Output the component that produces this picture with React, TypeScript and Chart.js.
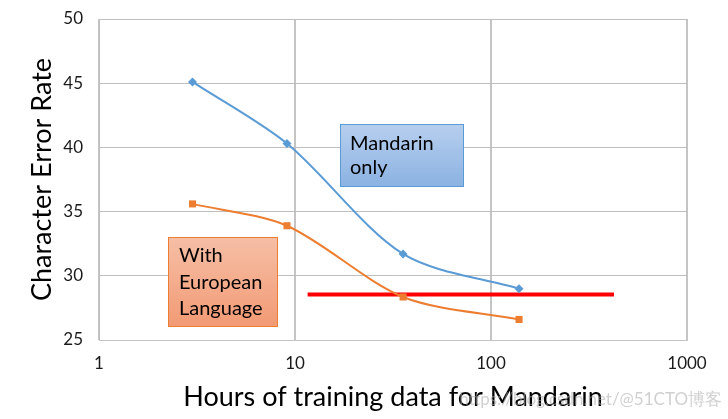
import React, { useEffect, useRef } from 'react';
import { Chart, registerables } from 'chart.js';

Chart.register(...registerables);

// ---- data ----
const hours = [3, 9.1, 35.6, 139];
const mandarinOnly = [45.1, 40.3, 31.7, 29.0];
const withEuropean = [35.6, 33.9, 28.35, 26.6];
const refHours = [11.6, 424];
const refValues = [28.55, 28.55];
const xTickValues = [1, 10, 100, 1000];
const yMin = 25;
const yMax = 50;
const yStep = 5;

const xTitle = 'Hours of training data for Mandarin';
const yTitle = 'Character Error Rate';
const watermark = 'https://blog.csdn.net/@51CTO博客';

const FONT = 'Lato, "Open Sans", "Noto Sans", sans-serif';

type Box = {
  lines: string[];
  x0: number; x1: number; y0: number; y1: number;
  top: string; bottom: string; border: string;
  fontSize: number; firstLine: number; lineGap: number; padLeft: number;
};

const boxes: Box[] = [
  {
    lines: ['Mandarin', 'only'],
    x0: 17, x1: 72.8, y0: 36.9, y1: 41.8,
    top: '#B7CFEE', bottom: '#8BB2E2', border: '#5B9BD5',
    fontSize: 20, firstLine: 20, lineGap: 24, padLeft: 10,
  },
  {
    lines: ['With', 'European', 'Language'],
    x0: 2.25, x1: 8.19, y0: 26.0, y1: 33.02,
    top: '#F6BFA6', bottom: '#F29A74', border: '#ED7D31',
    fontSize: 20, firstLine: 19, lineGap: 26.5, padLeft: 11,
  },
];

const boxesPlugin = {
  id: 'textBoxes',
  afterDatasetsDraw(chart: any) {
    const { ctx } = chart;
    const x = chart.scales.x;
    const y = chart.scales.y;
    ctx.save();
    for (const b of boxes) {
      const l = Math.round(x.getPixelForValue(b.x0));
      const r = Math.round(x.getPixelForValue(b.x1));
      const t = Math.round(y.getPixelForValue(b.y1));
      const bt = Math.round(y.getPixelForValue(b.y0));
      const g = ctx.createLinearGradient(0, t, 0, bt);
      g.addColorStop(0, b.top);
      g.addColorStop(1, b.bottom);
      ctx.fillStyle = g;
      ctx.fillRect(l, t, r - l, bt - t);
      ctx.strokeStyle = b.border;
      ctx.lineWidth = 1;
      ctx.strokeRect(l + 0.5, t + 0.5, r - l - 1, bt - t - 1);
      ctx.fillStyle = '#000000';
      ctx.font = `${b.fontSize}px ${FONT}`;
      ctx.textBaseline = 'middle';
      ctx.textAlign = 'left';
      b.lines.forEach((s, i) => {
        ctx.fillText(s, l + b.padLeft, t + b.firstLine + i * b.lineGap);
      });
    }
    ctx.restore();
  },
  afterDraw(chart: any) {
    const { ctx } = chart;
    ctx.save();
    ctx.font = `17px ${FONT}`;
    ctx.fillStyle = 'rgba(170,170,170,0.55)';
    ctx.textAlign = 'right';
    ctx.textBaseline = 'middle';
    ctx.fillText(watermark, 722, 400);
    ctx.restore();
  },
};

export default function App() {
  const ref = useRef<HTMLCanvasElement | null>(null);

  useEffect(() => {
    document.body.style.margin = '0';
    const canvas = ref.current;
    if (!canvas) return;
    const chart = new Chart(canvas, {
      type: 'line',
      data: {
        datasets: [
          {
            label: 'Mandarin only',
            data: hours.map((h, i) => ({ x: h, y: mandarinOnly[i] })),
            borderColor: '#5B9BD5',
            backgroundColor: '#5B9BD5',
            borderWidth: 2,
            pointStyle: 'rectRot',
            pointRadius: 4.5,
            pointBorderWidth: 0,
            tension: 0.3,
            fill: false,
          },
          {
            label: 'With European Language',
            data: hours.map((h, i) => ({ x: h, y: withEuropean[i] })),
            borderColor: '#ED7D31',
            backgroundColor: '#ED7D31',
            borderWidth: 2,
            pointStyle: 'rect',
            pointRadius: 5,
            pointBorderWidth: 0,
            tension: 0.3,
            fill: false,
          },
          {
            label: 'Reference',
            data: refHours.map((h, i) => ({ x: h, y: refValues[i] })),
            borderColor: '#FF0000',
            borderWidth: 4,
            pointRadius: 0,
            tension: 0,
            fill: false,
          },
        ],
      },
      options: {
        responsive: false,
        animation: false,
        events: [],
        layout: { padding: { left: 0, right: 41, top: 19, bottom: 0 } },
        plugins: {
          legend: { display: false },
          tooltip: { enabled: false },
        },
        scales: {
          x: {
            type: 'logarithmic',
            min: 1,
            max: 1000,
            afterBuildTicks: (scale: any) => {
              scale.ticks = xTickValues.map((v) => ({ value: v }));
            },
            afterFit: (scale: any) => {
              scale.height = 79;
              scale.paddingLeft = 0;
              scale.paddingRight = 0;
              scale.paddingTop = 0;
              scale.paddingBottom = 0;
            },
            ticks: {
              autoSkip: false,
              maxRotation: 0,
              padding: 13,
              color: '#1a1a1a',
              font: { family: FONT, size: 17 },
              callback: (v: any) => String(v),
            },
            grid: { color: '#C4C4C4', lineWidth: 2, drawTicks: false },
            border: { display: true, color: '#C4C4C4', width: 1 },
            title: {
              display: true,
              text: xTitle,
              color: '#000000',
              font: { family: FONT, size: 27 },
              padding: { top: 0, bottom: 6 },
            },
          },
          y: {
            type: 'linear',
            min: yMin,
            max: yMax,
            afterFit: (scale: any) => {
              scale.width = 99;
              scale.paddingTop = 0;
              scale.paddingBottom = 0;
              scale.paddingLeft = 0;
              scale.paddingRight = 0;
            },
            ticks: {
              stepSize: yStep,
              padding: 16,
              color: '#1a1a1a',
              font: { family: FONT, size: 17 },
            },
            grid: { color: '#BFBFBF', lineWidth: 1, drawTicks: false },
            border: { display: true, color: '#BFBFBF', width: 1 },
            title: {
              display: true,
              text: yTitle,
              color: '#000000',
              font: { family: FONT, size: 27 },
              padding: { top: 26, bottom: 0 },
            },
          },
        },
      },
      plugins: [boxesPlugin],
    } as any);
    return () => chart.destroy();
  }, []);

  return (
    <div style={{ position: 'absolute', left: 0, top: 0, width: 728, height: 419, background: '#ffffff' }}>
      <canvas ref={ref} width={728} height={419} style={{ display: 'block' }} />
    </div>
  );
}
